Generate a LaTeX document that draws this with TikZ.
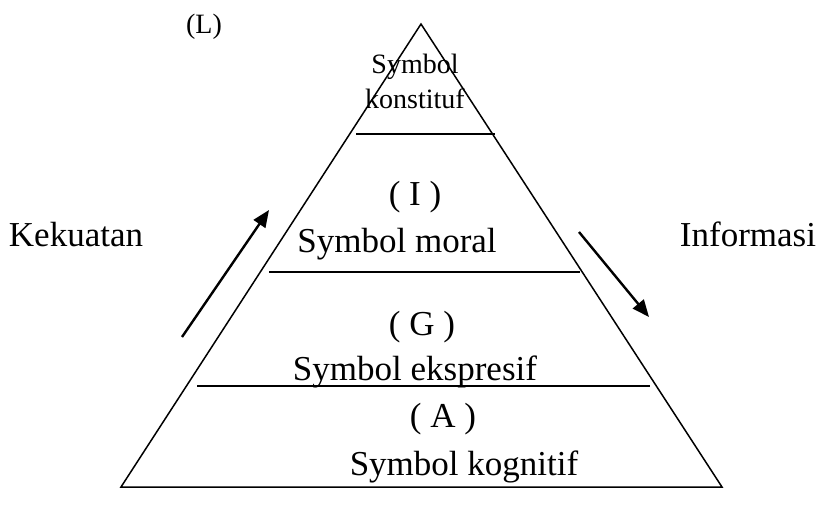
\documentclass[tikz,border=0pt]{standalone}
\usepackage{fontspec}
\setmainfont{Liberation Serif}
\usetikzlibrary{arrows.meta}
\begin{document}
\begin{tikzpicture}[x=1pt,y=-1pt,
  edge/.style={line width=1.5pt},
  flow/.style={line width=2.4pt,-{Triangle[length=17pt,width=14pt]}},
  lbl/.style={inner sep=0pt,anchor=base,font=\fontsize{35}{40}\selectfont},
  small/.style={inner sep=0pt,anchor=base,font=\fontsize{28}{32}\selectfont}]
\useasboundingbox (0,0) rectangle (822,506);
\coordinate (apex) at (421,24);
\coordinate (bl) at (121,487);
\coordinate (br) at (722,487);
\draw[edge,line join=miter] (bl) -- (apex) -- (br) -- cycle;
\coordinate (l1a) at (356,134); \coordinate (l1b) at (495,134);
\coordinate (l2a) at (269,272); \coordinate (l2b) at (580,272);
\coordinate (l3a) at (197,386); \coordinate (l3b) at (650,386);
\draw[edge] (l1a) -- (l1b);
\draw[edge] (l2a) -- (l2b);
\draw[edge] (l3a) -- (l3b);
\node[small] (L) at (204,33) {(L)};
\node[small] (s1) at (415,73) {Symbol};
\node[small] (s2) at (415,108) {konstituf};
\node[lbl] (I) at (415,205) {( I )};
\node[lbl] (moral) at (397,252) {Symbol moral};
\node[lbl] (G) at (422,335) {( G )};
\node[lbl] (eksp) at (415,380) {Symbol ekspresif};
\node[lbl] (A) at (443,427) {( A )};
\node[lbl] (kogn) at (464,475) {Symbol kognitif};
\node[lbl] (kek) at (76,246) {Kekuatan};
\node[lbl] (inf) at (748,246) {Informasi};
\coordinate (a1s) at (182,337); \coordinate (a1e) at (269,210);
\coordinate (a2s) at (579,232); \coordinate (a2e) at (649,317);
\draw[flow] (a1s) -- (a1e);
\draw[flow] (a2s) -- (a2e);
\end{tikzpicture}
\end{document}
